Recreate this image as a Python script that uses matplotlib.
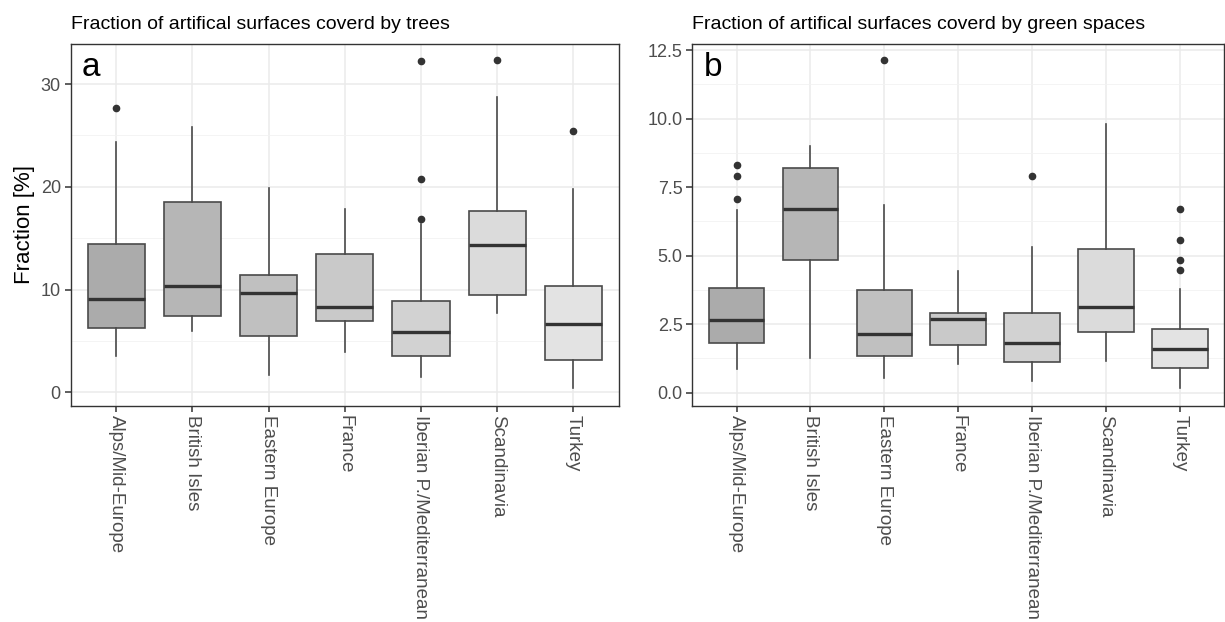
import matplotlib
matplotlib.use("Agg")
import matplotlib.pyplot as plt
from matplotlib.ticker import MultipleLocator, FormatStrFormatter

plt.rcParams['font.family'] = ['Liberation Sans', 'DejaVu Sans']

regions = ["Alps/Mid-Europe", "British Isles", "Eastern Europe", "France",
           "Iberian P./Mediterranean", "Scandinavia", "Turkey"]

# panel a: trees
trees_whislo = [3.5, 6.0, 1.7, 3.9, 1.5, 7.7, 0.4]
trees_q1 = [6.3, 7.45, 5.45, 6.95, 3.55, 9.5, 3.15]
trees_med = [9.05, 10.35, 9.65, 8.35, 5.85, 14.35, 6.65]
trees_q3 = [14.4, 18.55, 11.45, 13.5, 8.85, 17.65, 10.35]
trees_whishi = [24.4, 25.8, 19.9, 17.8, 16.4, 28.7, 19.8]
trees_out = [[27.7], [], [], [], [16.9, 20.8, 32.2], [32.3], [25.4]]

# panel b: green spaces
green_whislo = [0.85, 1.27, 0.52, 1.05, 0.42, 1.15, 0.15]
green_q1 = [1.82, 4.85, 1.32, 1.75, 1.10, 2.20, 0.88]
green_med = [2.66, 6.70, 2.12, 2.70, 1.82, 3.13, 1.57]
green_q3 = [3.83, 8.20, 3.75, 2.90, 2.90, 5.25, 2.31]
green_whishi = [6.67, 9.00, 6.83, 4.42, 5.32, 9.80, 3.79]
green_out = [[7.06, 7.89, 8.30], [], [12.12], [], [7.90], [], [4.47, 4.85, 5.56, 6.70]]

box_colors = ['#ababab', '#b6b6b6', '#c0c0c0', '#c9c9c9', '#d2d2d2', '#dbdbdb', '#e3e3e3']
line_col = '#4a4a4a'


def draw_panel(ax, whislo, q1, med, q3, whishi, outs, title, letter, step, ylim, letter_x):
    stats = []
    for i in range(len(regions)):
        stats.append(dict(med=med[i], q1=q1[i], q3=q3[i], whislo=whislo[i],
                          whishi=whishi[i], fliers=outs[i], label=regions[i]))
    pos = list(range(1, len(regions) + 1))
    bp = ax.bxp(stats, positions=pos, widths=0.75, patch_artist=True, showcaps=False,
                boxprops=dict(edgecolor=line_col, linewidth=1.2),
                whiskerprops=dict(color=line_col, linewidth=1.2),
                medianprops=dict(color='#333333', linewidth=2.4),
                flierprops=dict(marker='o', markerfacecolor='#333333',
                                markeredgecolor='#333333', markersize=4.5),
                zorder=3)
    for patch, c in zip(bp['boxes'], box_colors):
        patch.set_facecolor(c)

    ax.set_xlim(0.4, 7.6)
    ax.set_ylim(*ylim)
    ax.yaxis.set_major_locator(MultipleLocator(step))
    ax.yaxis.set_minor_locator(MultipleLocator(step / 2))
    ax.grid(True, which='major', color='#ebebeb', linewidth=1.1, zorder=0)
    ax.grid(True, which='minor', axis='y', color='#f2f2f2', linewidth=0.6, zorder=0)
    ax.set_axisbelow(True)
    ax.set_xticks(pos)
    ax.set_xticklabels(regions, rotation=270, fontsize=13.5, color='#4d4d4d',
                       va='top', ha='center')
    ax.tick_params(axis='both', which='major', length=4, width=1.1, color='#333333',
                   labelcolor='#4d4d4d', pad=3)
    ax.tick_params(axis='y', labelsize=13)
    ax.tick_params(axis='y', which='minor', length=0)
    for sp in ax.spines.values():
        sp.set_color('#333333')
        sp.set_linewidth(1.0)
    ax.set_title(title, loc='left', fontsize=14, pad=11)
    ax.text(letter_x, 0.9115, letter, transform=ax.transAxes, fontsize=24,
            va='baseline', ha='left')


fig = plt.figure(figsize=(12.25, 6.22), dpi=100)
ax1 = fig.add_axes([0.0576, 0.3478, 0.4477, 0.5815])
ax2 = fig.add_axes([0.5651, 0.3478, 0.4342, 0.5815])

draw_panel(ax1, trees_whislo, trees_q1, trees_med, trees_q3, trees_whishi, trees_out,
           "Fraction of artifical surfaces coverd by trees", "a", 10, (-1.3, 33.9), 0.02)
draw_panel(ax2, green_whislo, green_q1, green_med, green_q3, green_whishi, green_out,
           "Fraction of artifical surfaces coverd by green spaces", "b", 2.5, (-0.48, 12.72), 0.021)
ax2.yaxis.set_major_formatter(FormatStrFormatter('%.1f'))

ax1.set_ylabel("Fraction [%]", fontsize=16, labelpad=4)

fig.savefig("out.png", dpi=100)
